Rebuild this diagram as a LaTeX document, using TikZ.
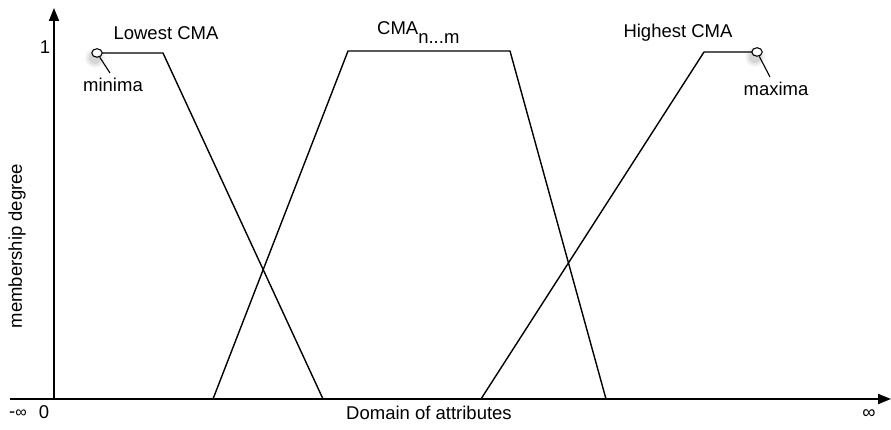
\documentclass[tikz,border=0pt]{standalone}
\usepackage{fontspec}
\setmainfont{Liberation Sans}
\usetikzlibrary{arrows.meta,calc,shapes.geometric}
\begin{document}
\begin{tikzpicture}[x=1pt,y=-1pt,
  axis/.style={line width=1.9pt,-{Triangle[length=13pt,width=10pt]}},
  curve/.style={line width=1.4pt,line join=round},
  lbl/.style={font=\fontsize{18.5}{22}\selectfont,inner sep=0pt},
  endpt/.style={ellipse,draw,fill=white,line width=1.1pt,minimum width=10.5pt,minimum height=8.5pt,inner sep=0pt},
  pointer/.style={line width=1.1pt}]
\useasboundingbox (0,0) rectangle (891,430);

% axes
\coordinate (origin) at (54,399);
\coordinate (ytop) at (54,8);
\coordinate (xleft) at (10,399);
\coordinate (xright) at (891,399);
\draw[axis] (origin) -- (ytop);
\draw[axis] (xleft) -- (xright);

% membership functions
\coordinate (l1) at (97,53);
\coordinate (l2) at (163,53);
\coordinate (l3) at (323,399);
\coordinate (m1) at (213,399);
\coordinate (m2) at (348,51);
\coordinate (m3) at (510,51);
\coordinate (m4) at (606,399);
\coordinate (h1) at (481,399);
\coordinate (h2) at (704,52);
\coordinate (h3) at (757,52);

\draw[curve] (l1) -- (l2) -- (l3);
\draw[curve] (m1) -- (m2) -- (m3) -- (m4);
\draw[curve] (h1) -- (h2) -- (h3);

% end points with a soft shadow
\foreach \p in {l1,h3}{
  \foreach \r/\o in {10/0.04,8/0.06,6/0.08}
    \fill[black,opacity=\o] ($(\p)+(-2,5)$) circle (\r pt);
}
\node[endpt] (minC) at (l1) {};
\node[endpt] (maxC) at (h3) {};

% labels
\node[lbl] (minL) at (113,85) {minima};
\node[lbl] (maxL) at (776,89) {maxima};
\coordinate (minP) at (110,73);
\coordinate (maxP) at (770,77);
\draw[pointer] (minC) -- (minP);
\draw[pointer] (maxC) -- (maxP);

\node[lbl] (lowL) at (166,33) {Lowest CMA};
\node[lbl,anchor=base west] (midL) at (377,35) {CMA\raisebox{-9pt}{n...m}};
\node[lbl] (highL) at (678,33) {Highest CMA};

\node[lbl] (one) at (45,47) {1};
\node[lbl] (zero) at (44,412) {0};
\node[lbl] (minf) at (18,414) {-{\fontsize{16}{18}\selectfont ∞}};
\node[lbl] (pinf) at (869,414) {∞};
\node[lbl] (domL) at (429,413) {Domain of attributes};
\node[lbl,rotate=90] (memL) at (17,246) {membership degree};
\end{tikzpicture}
\end{document}
